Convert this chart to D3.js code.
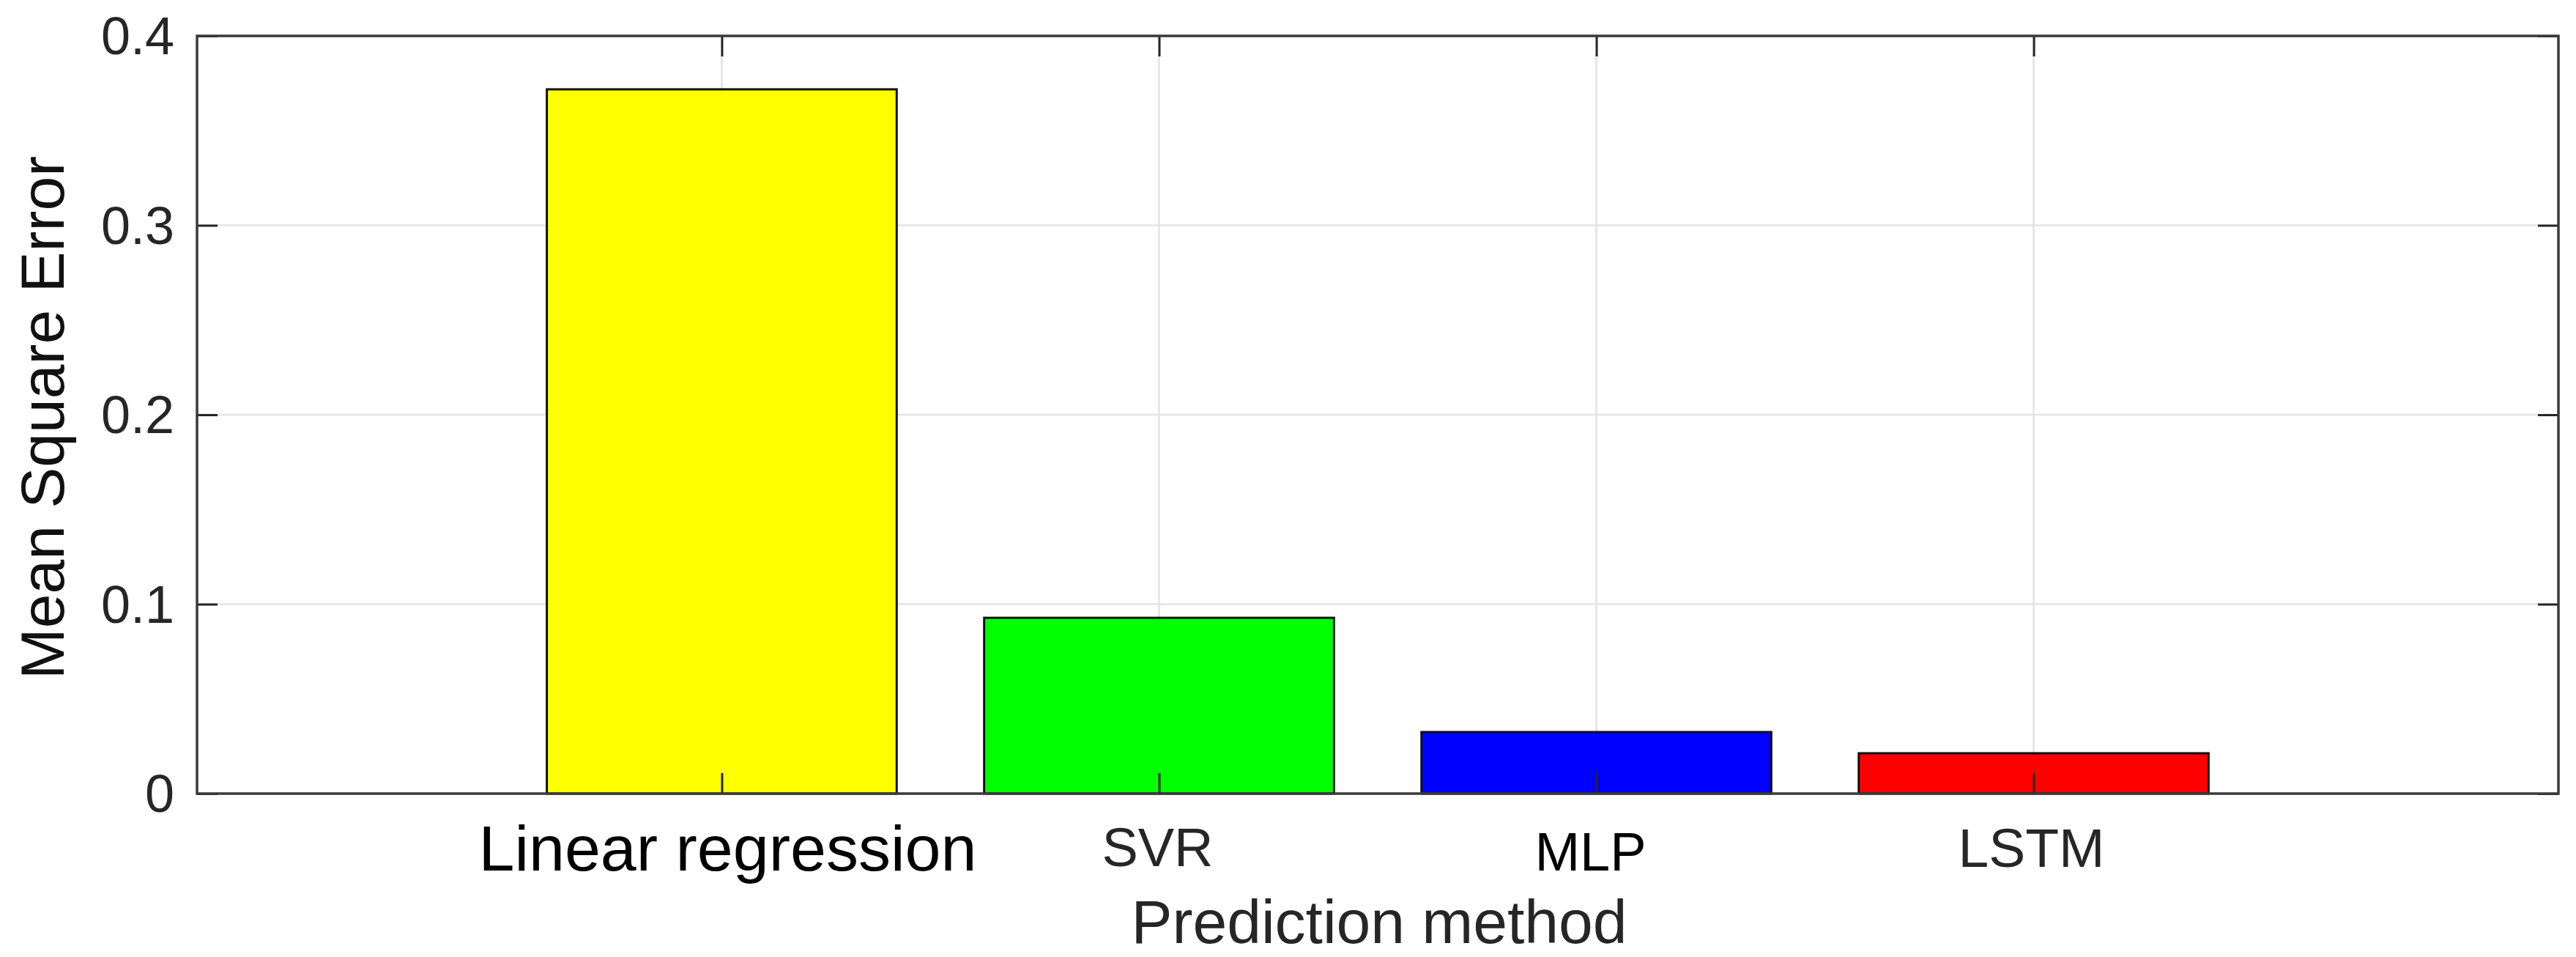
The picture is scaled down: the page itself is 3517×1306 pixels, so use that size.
<!DOCTYPE html>
<html>
<head>
<meta charset="utf-8">
<script src="https://cdn.jsdelivr.net/npm/d3@7"></script>
<style>
  html, body { margin: 0; padding: 0; background: #fff; }
  svg { display: block; }
  text { font-family: "Liberation Sans", Arial, sans-serif; }
</style>
</head>
<body>
<script>
// ---- data ----
const categories = ["Linear regression", "SVR", "MLP", "LSTM"];
const mseValues = [0.3718, 0.0928, 0.0325, 0.0213];
const barColors = ["#ffff00", "#00ff00", "#0000ff", "#ff0000"];
const yTicks = [0, 0.1, 0.2, 0.3, 0.4];
const yTickLabels = ["0", "0.1", "0.2", "0.3", "0.4"];
const xTitle = "Prediction method";
const yTitle = "Mean Square Error";

// ---- styles (not data) ----
const labelSizes = [88, 74, 74, 75];
const labelColors = ["#000000", "#262626", "#000000", "#262626"];
const labelDx = [8, -2, -8, -3];
const labelBaseline = [1188, 1182, 1188, 1183];

const W = 3517, H = 1306;
const L = 269, R = 3493, T = 49, B = 1083;
const tickLen = 28;

const svg = d3.select("body").append("svg").attr("width", W).attr("height", H);

const pos = categories.map((d, i) => i + 1);
const x = d3.scaleLinear().domain([-0.2, 5.2]).range([L, R]);
const y = d3.scaleLinear().domain([0, 0.4]).range([B, T]);
const barW = x(0.8) - x(0);

// grid
const grid = svg.append("g");
grid.selectAll("line.gy").data(yTicks.filter(t => t > 0 && t < 0.4)).enter().append("line")
  .attr("x1", L).attr("x2", R).attr("y1", d => y(d)).attr("y2", d => y(d))
  .attr("stroke", "#e3e3e3").attr("stroke-width", 2.5);
grid.selectAll("line.gx").data(pos).enter().append("line")
  .attr("x1", d => x(d)).attr("x2", d => x(d)).attr("y1", T).attr("y2", B)
  .attr("stroke", "#e3e3e3").attr("stroke-width", 2.5);

// bars
svg.append("g").selectAll("rect").data(mseValues).enter().append("rect")
  .attr("x", (d, i) => x(pos[i]) - barW / 2)
  .attr("width", barW)
  .attr("y", d => y(d))
  .attr("height", d => y(0) - y(d))
  .attr("fill", (d, i) => barColors[i])
  .attr("stroke", "#111")
  .attr("stroke-width", 3);

// axes with inward ticks
const axisColor = "#262626";
const axL = d3.axisLeft(y).tickValues(yTicks).tickSize(-tickLen).tickFormat("");
const axR = d3.axisRight(y).tickValues(yTicks).tickSize(-tickLen).tickFormat("");
const axB = d3.axisBottom(x).tickValues(pos).tickSize(-tickLen).tickFormat("");
const axT = d3.axisTop(x).tickValues(pos).tickSize(-tickLen).tickFormat("");
function styleAxis(g) {
  g.selectAll("path").remove();
  g.selectAll("line").attr("stroke", axisColor).attr("stroke-width", 3);
}
svg.append("g").attr("transform", `translate(${L},0)`).call(axL).call(styleAxis);
svg.append("g").attr("transform", `translate(${R},0)`).call(axR).call(styleAxis);
svg.append("g").attr("transform", `translate(0,${B})`).call(axB).call(styleAxis);
svg.append("g").attr("transform", `translate(0,${T})`).call(axT).call(styleAxis);

// box
svg.append("rect").attr("x", L).attr("y", T).attr("width", R - L).attr("height", B - T)
  .attr("fill", "none").attr("stroke", "#3a3a3a").attr("stroke-width", 3.5);

// y tick labels
svg.append("g").selectAll("text").data(yTicks).enter().append("text")
  .attr("x", 238).attr("y", d => y(d))
  .attr("text-anchor", "end").attr("dominant-baseline", "central")
  .attr("font-size", 72).attr("fill", "#262626")
  .text((d, i) => yTickLabels[i]);

// x category labels
svg.append("g").selectAll("text").data(categories).enter().append("text")
  .attr("x", (d, i) => x(pos[i]) + labelDx[i])
  .attr("y", (d, i) => labelBaseline[i])
  .attr("text-anchor", "middle")
  .attr("font-size", (d, i) => labelSizes[i])
  .attr("fill", (d, i) => labelColors[i])
  .text(d => d);

// axis titles
svg.append("text").attr("x", 1883).attr("y", 1287).attr("text-anchor", "middle")
  .attr("font-size", 84).attr("fill", "#262626").text(xTitle);
svg.append("text").attr("transform", "translate(87,570) rotate(-90)")
  .attr("text-anchor", "middle").attr("font-size", 84).attr("fill", "#111").text(yTitle);
</script>
</body>
</html>
